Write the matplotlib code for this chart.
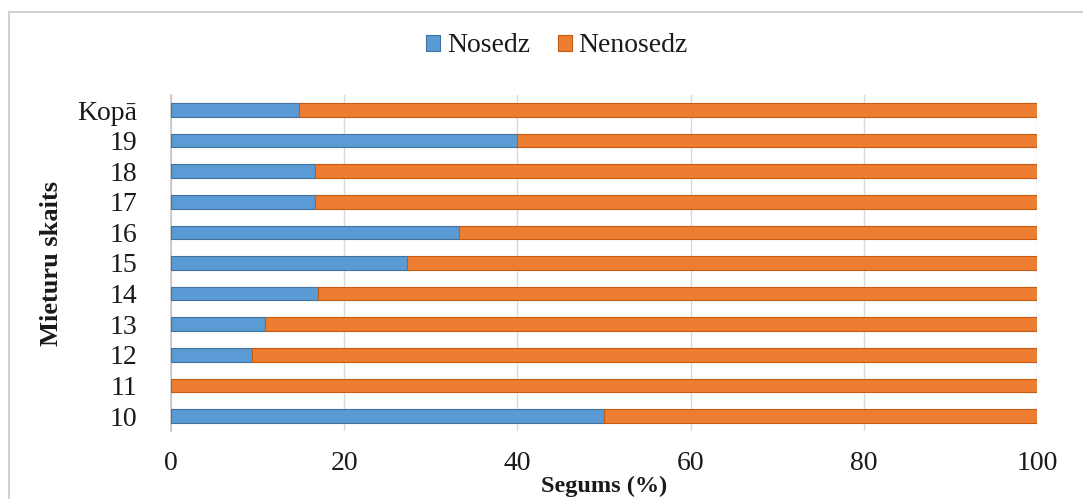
import matplotlib
matplotlib.use("Agg")
import matplotlib.pyplot as plt
from matplotlib.patches import Rectangle

categories = ["10", "11", "12", "13", "14", "15", "16", "17", "18", "19", "Kopā"]
nosedz = [50.0, 0.0, 9.4, 10.9, 17.0, 27.3, 33.3, 16.6, 16.6, 40.0, 14.8]
nenosedz = [100 - v for v in nosedz]
xticks = [0, 20, 40, 60, 80, 100]

plt.rcParams['font.family'] = ['Liberation Serif', 'DejaVu Serif']

fig = plt.figure(figsize=(10.83, 4.99), dpi=100)
ax = fig.add_axes([171/1083, 1 - 431.3/499, (1037-171)/1083, (431.3-94.7)/499])

# outer chart border
fig.patches.append(Rectangle((9/1083, -0.1), 1.2, 1 - 12/499 + 0.1,
                             transform=fig.transFigure, fill=False,
                             edgecolor='#d0d0d0', linewidth=1.5, zorder=0))

y = list(range(len(categories)))
h = 0.45
ax.barh(y, nosedz, height=h, color='#5B9BD5', edgecolor='#41719C',
        linewidth=0.8, label='Nosedz', zorder=3)
ax.barh(y, nenosedz, left=nosedz, height=h, color='#ED7D31',
        edgecolor='#C55A11', linewidth=0.8, label='Nenosedz', zorder=3)

ax.set_xlim(0, 100)
ax.set_ylim(-0.5, len(categories) - 0.5)
ax.set_xticks(xticks)
ax.set_xticklabels([str(t) for t in xticks])
ax.set_yticks(y)
ax.set_yticklabels(categories)

ax.grid(axis='x', color='#d9d9d9', linewidth=1.0, zorder=0)
for s in ['top', 'right', 'bottom']:
    ax.spines[s].set_visible(False)
ax.spines['left'].set_color('#c8c8c8')
ax.spines['left'].set_linewidth(1.2)
ax.tick_params(axis='both', length=0, labelsize=20, colors='#1a1a1a')
ax.tick_params(axis='x', pad=14)
ax.tick_params(axis='y', pad=24)

ax.set_xlabel('Segums (%)', fontsize=17.5, fontweight='bold', color='#1a1a1a')
ax.set_ylabel('Mieturu skaits', fontsize=19, fontweight='bold', color='#1a1a1a')
ax.xaxis.set_label_coords(0.5, (431.3 - 486) / 336.6)
ax.xaxis.label.set_va('center')
ax.yaxis.set_label_coords((52 - 171) / 866, 0.5)
ax.yaxis.label.set_va('center')

leg = fig.legend(loc='center', bbox_to_anchor=(557/1083, 1 - 46/499), ncol=2,
                 frameon=False, fontsize=20, handlelength=0.5, handleheight=0.5,
                 handletextpad=0.25, columnspacing=1.0)
for t in leg.get_texts():
    t.set_color('#1a1a1a')

fig.savefig('out.png', dpi=100)
